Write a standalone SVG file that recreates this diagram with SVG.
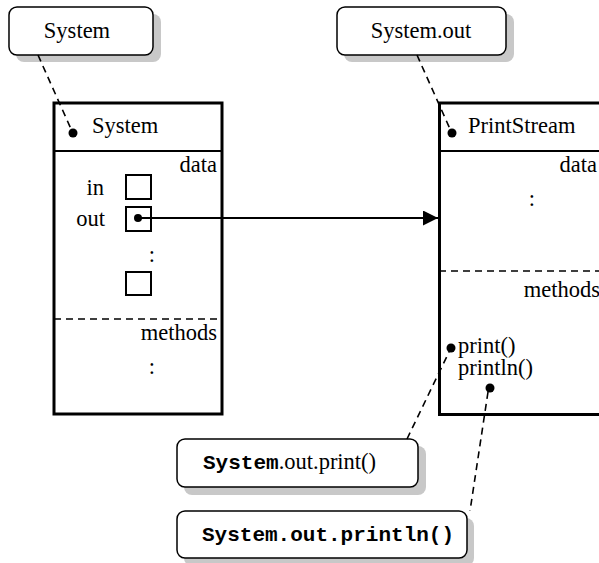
<svg xmlns="http://www.w3.org/2000/svg" width="599" height="563" viewBox="0 0 599 563">
<style>
.serif{font-family:"Liberation Serif","Times New Roman",serif;font-size:22.5px;fill:#000}
.mono{font-family:"Liberation Mono","Courier New",monospace;font-size:21px;font-weight:bold;fill:#000}
.callout{fill:#fff;stroke:#000;stroke-width:1.5}
.shadow{fill:#c8c8c8}
.box{fill:#fff;stroke:#000;stroke-width:3}
.sep{stroke:#000;stroke-width:2;fill:none}
.dsep{stroke:#000;stroke-width:1.5;stroke-dasharray:7,5;fill:none}
.slot{fill:#fff;stroke:#000;stroke-width:2}
.lead{stroke:#000;stroke-width:1.6;stroke-dasharray:7,5;fill:none}
</style>
<defs>
<marker id="arr" markerWidth="15" markerHeight="15" refX="15" refY="7.5" orient="auto" markerUnits="userSpaceOnUse">
<path d="M0,0 L15,7.5 L0,15 Z" fill="#000"/>
</marker>
</defs>
<rect width="599" height="563" fill="#fff"/>

<g id="system-class">
<rect class="box" x="54" y="103" width="168" height="311"/>
<line class="sep" x1="54" y1="151" x2="222" y2="151"/>
<circle cx="73" cy="133" r="4.5" fill="#000"/>
<text class="serif" x="92" y="133">System</text>
<text class="serif" x="217" y="172" text-anchor="end">data</text>
<text class="serif" x="104" y="195" text-anchor="end">in</text>
<rect class="slot" x="126" y="175" width="25" height="24"/>
<text class="serif" x="105" y="226" text-anchor="end">out</text>
<rect class="slot" x="126" y="207" width="25" height="24"/>
<circle cx="138" cy="218" r="4" fill="#000"/>
<text class="serif" x="152" y="262" text-anchor="middle">:</text>
<rect class="slot" x="126" y="272" width="25" height="23"/>
<line class="dsep" x1="54" y1="319" x2="222" y2="319"/>
<text class="serif" x="217" y="340" text-anchor="end">methods</text>
<text class="serif" x="152" y="374" text-anchor="middle">:</text>
</g>

<g id="printstream-class">
<rect class="box" x="439.5" y="103" width="170" height="311.5"/>
<line class="sep" x1="439" y1="151" x2="609" y2="151"/>
<circle cx="452" cy="133" r="4.5" fill="#000"/>
<text class="serif" x="468" y="133">PrintStream</text>
<text class="serif" x="597" y="172" text-anchor="end">data</text>
<text class="serif" x="532" y="206" text-anchor="middle">:</text>
<line class="dsep" x1="439" y1="271" x2="609" y2="271"/>
<text class="serif" x="600" y="297" text-anchor="end">methods</text>
<circle cx="451" cy="348" r="4.5" fill="#000"/>
<text class="serif" x="458" y="353">print()</text>
<text class="serif" x="458" y="375">println()</text>
<circle cx="490" cy="388" r="4.5" fill="#000"/>
</g>

<g id="callout-system">
<rect class="shadow" x="16" y="14" width="145" height="48" rx="8"/>
<rect class="callout" x="9" y="7" width="144" height="48" rx="8"/>
<text class="serif" x="77" y="38" text-anchor="middle">System</text>
</g>

<g id="callout-system-out">
<rect class="shadow" x="344" y="14" width="170" height="48" rx="8"/>
<rect class="callout" x="337" y="7" width="169" height="48" rx="8"/>
<text class="serif" x="421" y="38" text-anchor="middle">System.out</text>
</g>

<g id="callout-print">
<rect class="shadow" x="184" y="446" width="242" height="49" rx="8"/>
<rect class="callout" x="177" y="439" width="241" height="48" rx="8"/>
<text x="203" y="469"><tspan class="mono">System</tspan><tspan class="serif">.out.print()</tspan></text>
</g>

<g id="callout-println">
<rect class="shadow" x="184" y="518" width="290" height="48" rx="8"/>
<rect class="callout" x="177" y="511" width="290" height="47" rx="8"/>
<text class="mono" x="202" y="541">System.out.println()</text>
</g>

<g id="connectors">
<line class="lead" x1="38" y1="55" x2="71" y2="129"/>
<line class="lead" x1="417" y1="55" x2="450" y2="129"/>
<line x1="138" y1="218" x2="438" y2="218" stroke="#000" stroke-width="2" marker-end="url(#arr)"/>
<line class="lead" x1="407" y1="439" x2="449" y2="352"/>
<line class="lead" x1="488" y1="392" x2="470" y2="511"/>
</g>
</svg>
